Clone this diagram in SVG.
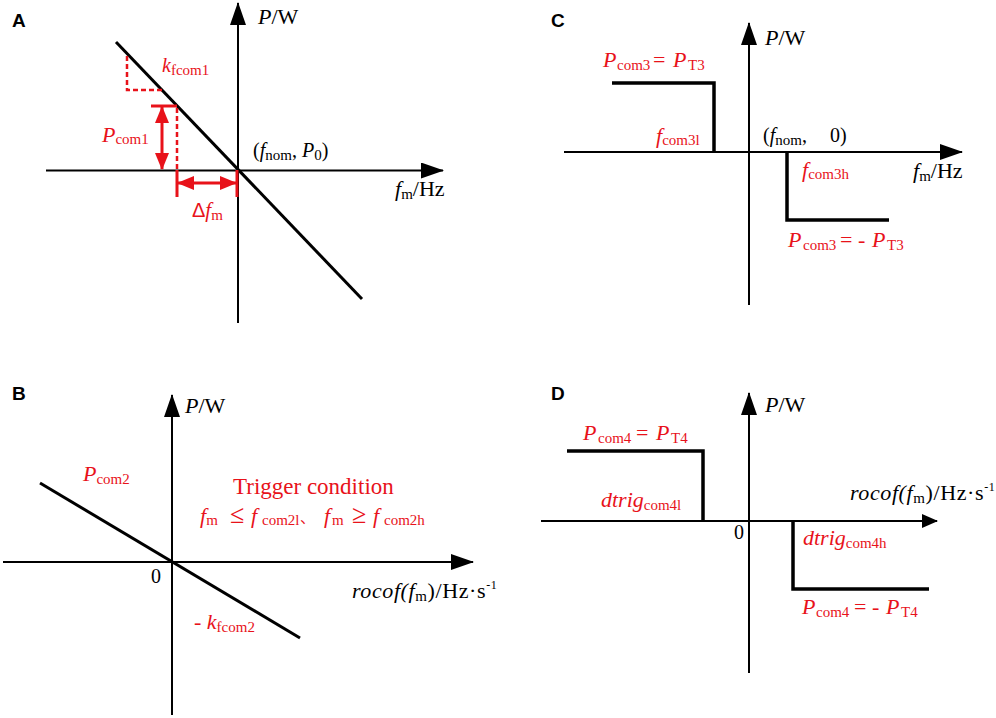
<svg xmlns="http://www.w3.org/2000/svg" width="996" height="718" viewBox="0 0 996 718">
<style>
.t{font-family:"Liberation Serif","Noto Sans CJK SC",serif;font-size:21px}
.red{fill:#e8121a}
.blk{fill:#000}
.i{font-style:italic}
.s{font-size:15px}
.sup{font-size:12px}
.f20{font-size:20px}
.f22{font-size:22px}
.f23{font-size:23px}
.rel{font-size:26px}
.lab{font-family:"Liberation Sans",Arial,sans-serif;font-weight:bold;font-size:19px;fill:#000}
.ax{stroke:#000;stroke-width:2;fill:none}
.curve{stroke:#000;stroke-width:3;fill:none}
.step{stroke:#000;stroke-width:3.5;fill:none}
.rs{stroke:#e8121a;stroke-width:3;fill:none}
.rd{stroke:#e8121a;stroke-width:2.5;fill:none;stroke-dasharray:5 3}
</style>
<defs>
<marker id="ah" markerUnits="userSpaceOnUse" markerWidth="23" markerHeight="16" refX="22" refY="8" orient="auto" viewBox="0 0 23 16">
<path d="M0,0 L23,8 L0,16 z" fill="#000"/>
</marker>
<marker id="ahs" markerUnits="userSpaceOnUse" markerWidth="16" markerHeight="14" refX="15" refY="7" orient="auto" viewBox="0 0 16 14">
<path d="M0,0 L16,7 L0,14 z" fill="#000"/>
</marker>
<marker id="rh" markerUnits="userSpaceOnUse" markerWidth="17" markerHeight="14" refX="16" refY="7" orient="auto-start-reverse" viewBox="0 0 17 14">
<path d="M0,0 L17,7 L0,14 z" fill="#e8121a"/>
</marker>
</defs>

<g id="panelA">
<text class="lab" x="12" y="27">A</text>
<g id="connectorsA">
<line class="ax" x1="238" y1="323" x2="238" y2="3" marker-end="url(#ah)"/>
<line class="ax" x1="46" y1="170.5" x2="443" y2="170.5" marker-end="url(#ah)"/>
<line class="curve" x1="116" y1="42" x2="362" y2="299"/>
<path class="rd" d="M127,56 V90 H163"/>
<path class="rs" d="M151,106 H177"/>
<path class="rd" d="M177,108 V170"/>
<path class="rs" d="M177,170 V197 M237,170 V197"/>
<line class="rs" x1="162" y1="107" x2="162" y2="169" marker-start="url(#rh)" marker-end="url(#rh)"/>
<line class="rs" x1="178" y1="183" x2="236" y2="183" marker-start="url(#rh)" marker-end="url(#rh)"/>
</g>
<text class="t blk f22" x="258" y="24"><tspan class="i">P</tspan>/W</text>
<text class="t red f20" x="162" y="72"><tspan class="i">k</tspan><tspan class="s" dy="3">fcom1</tspan></text>
<text class="t red f22" x="102" y="142"><tspan class="i">P</tspan><tspan class="s" dy="2">com1</tspan></text>
<text class="t red" x="192" y="217"><tspan style="font-family:'Liberation Sans',Arial,sans-serif;font-size:20px">Δ</tspan><tspan class="i">f</tspan><tspan class="s" dy="3">m</tspan></text>
<text class="t blk f20" x="253" y="157">(<tspan class="i">f</tspan><tspan class="s" dy="3">nom</tspan><tspan dy="-3">, </tspan><tspan class="i">P</tspan><tspan class="s" dy="3">0</tspan><tspan dy="-3">)</tspan></text>
<text class="t blk f22" x="395" y="196"><tspan class="i">f</tspan><tspan class="s" dy="3">m</tspan><tspan dy="-3">/Hz</tspan></text>
</g>

<g id="panelC">
<text class="lab" x="551" y="27">C</text>
<g id="connectorsC">
<line class="ax" x1="749" y1="305" x2="749" y2="23" marker-end="url(#ah)"/>
<line class="ax" x1="564" y1="152" x2="962" y2="152" marker-end="url(#ah)"/>
<path class="step" d="M612,83 H714 V152"/>
<path class="step" d="M787,152 V220 H889"/>
</g>
<text class="t blk f22" x="765" y="45"><tspan class="i">P</tspan>/W</text>
<text class="t red f22" x="603" y="67"><tspan class="i">P</tspan><tspan class="s" x="617" dy="3">com3</tspan><tspan x="653" dy="-3">=</tspan><tspan class="i" x="673">P</tspan><tspan class="s" x="688" dy="3">T3</tspan></text>
<text class="t red f22" x="656" y="143"><tspan class="i">f</tspan><tspan class="s" dy="2">com3l</tspan></text>
<text class="t blk f20" x="763" y="142">(<tspan class="i">f</tspan><tspan class="s" dy="3">nom</tspan><tspan dy="-3">,</tspan><tspan x="830">0)</tspan></text>
<text class="t red f22" x="802" y="177"><tspan class="i">f</tspan><tspan class="s" dy="2">com3h</tspan></text>
<text class="t blk f22" x="913" y="178"><tspan class="i">f</tspan><tspan class="s" dy="3">m</tspan><tspan dy="-3">/Hz</tspan></text>
<text class="t red f22" x="788" y="247"><tspan class="i">P</tspan><tspan class="s" x="803" dy="3">com3</tspan><tspan x="840" dy="-3">= -</tspan><tspan class="i" x="872">P</tspan><tspan class="s" x="887" dy="3">T3</tspan></text>
</g>

<g id="panelB">
<text class="lab" x="12" y="400">B</text>
<g id="connectorsB">
<line class="ax" x1="172" y1="715" x2="172" y2="395" marker-end="url(#ah)"/>
<line class="ax" x1="3" y1="562" x2="473" y2="562" marker-end="url(#ah)"/>
<line class="curve" x1="40" y1="483" x2="300" y2="638"/>
</g>
<text class="t blk f22" x="185" y="413"><tspan class="i">P</tspan>/W</text>
<text class="t red f22" x="83" y="481"><tspan class="i">P</tspan><tspan class="s" dy="3">com2</tspan></text>
<text class="t red f23" x="233" y="494">Trigger condition</text>
<text class="t red f22" x="200" y="523"><tspan class="i">f</tspan><tspan class="s" dy="2">m</tspan><tspan class="rel" x="230" dy="-2">≤</tspan><tspan class="i" x="251">f</tspan><tspan class="s" x="262" dy="2">com2l</tspan><tspan x="300" dy="-2" class="s">、</tspan><tspan class="i" x="324">f</tspan><tspan class="s" x="332" dy="2">m</tspan><tspan class="rel" x="352" dy="-2">≥</tspan><tspan class="i" x="373">f</tspan><tspan class="s" x="384" dy="2">com2h</tspan></text>
<text class="t blk f20" x="151" y="583">0</text>
<text class="t blk f22" x="352" y="598" style="letter-spacing:0.6px"><tspan class="i">rocof(f</tspan><tspan class="s" dy="3">m</tspan><tspan dy="-3">)/Hz·s</tspan><tspan class="sup" dy="-9">-1</tspan></text>
<text class="t red f22" x="194" y="629"><tspan>- </tspan><tspan class="i">k</tspan><tspan class="s" dy="3">fcom2</tspan></text>
</g>

<g id="panelD">
<text class="lab" x="551" y="400">D</text>
<g id="connectorsD">
<line class="ax" x1="749" y1="673" x2="749" y2="393" marker-end="url(#ah)"/>
<line class="ax" x1="541" y1="521" x2="937" y2="521" marker-end="url(#ahs)"/>
<path class="step" d="M567,451 H703 V521"/>
<path class="step" d="M793,521 V589 H929"/>
</g>
<text class="t blk f22" x="765" y="412"><tspan class="i">P</tspan>/W</text>
<text class="t red f22" x="583" y="440"><tspan class="i">P</tspan><tspan class="s" x="598" dy="3">com4</tspan><tspan x="636" dy="-3">=</tspan><tspan class="i" x="656">P</tspan><tspan class="s" x="671" dy="3">T4</tspan></text>
<text class="t red f22" x="601" y="507"><tspan class="i">dtrig</tspan><tspan class="s" dy="3">com4l</tspan></text>
<text class="t blk f20" x="734" y="539">0</text>
<text class="t blk f22" x="850" y="500" style="letter-spacing:0.6px"><tspan class="i">rocof(f</tspan><tspan class="s" dy="3">m</tspan><tspan dy="-3">)/Hz·s</tspan><tspan class="sup" dy="-9">-1</tspan></text>
<text class="t red f22" x="803" y="545"><tspan class="i">dtrig</tspan><tspan class="s" dy="3">com4h</tspan></text>
<text class="t red f22" x="802" y="614"><tspan class="i">P</tspan><tspan class="s" x="816" dy="3">com4</tspan><tspan x="854" dy="-3">= -</tspan><tspan class="i" x="886">P</tspan><tspan class="s" x="901" dy="3">T4</tspan></text>
</g>
</svg>
